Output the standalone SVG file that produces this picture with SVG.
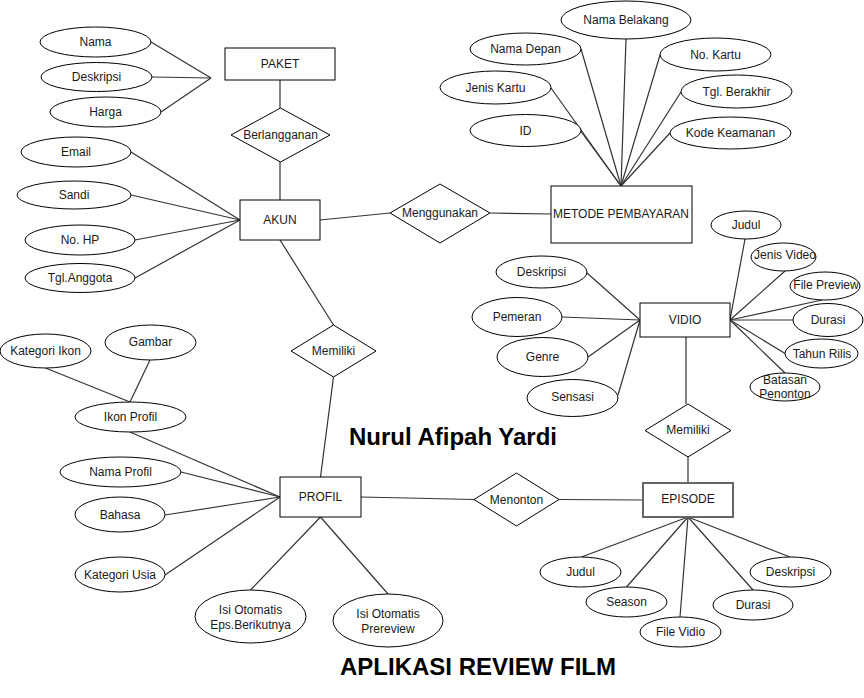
<svg xmlns="http://www.w3.org/2000/svg" width="864" height="698" viewBox="0 0 864 698">
<style>
.e{fill:#fff;stroke:#000;stroke-width:1}
.r{fill:#fff;stroke:#000;stroke-width:1}
.d{fill:#fff;stroke:#000;stroke-width:1}
.t{font-family:"Liberation Sans",Arial,sans-serif;font-size:12px;fill:#1a1a1a;text-anchor:middle}
.b{font-family:"Liberation Sans",Arial,sans-serif;font-weight:bold;fill:#000;text-anchor:middle}
#connectors line{stroke:#333;stroke-width:1.2;fill:none}
</style>
<rect x="0" y="0" width="864" height="698" fill="#fff"/>
<g id="connectors">
<line x1="151" y1="42" x2="211" y2="78"/>
<line x1="152" y1="77" x2="211" y2="78"/>
<line x1="161" y1="112" x2="211" y2="78"/>
<line x1="280" y1="80" x2="280" y2="108"/>
<line x1="280" y1="162" x2="280" y2="200"/>
<line x1="131" y1="152" x2="240" y2="220"/>
<line x1="131" y1="195" x2="240" y2="220"/>
<line x1="135" y1="240" x2="240" y2="220"/>
<line x1="135" y1="278" x2="240" y2="220"/>
<line x1="320" y1="220" x2="390" y2="213"/>
<line x1="490" y1="213" x2="551" y2="214"/>
<line x1="581" y1="49" x2="621" y2="186"/>
<line x1="626" y1="39" x2="621" y2="186"/>
<line x1="551" y1="88" x2="621" y2="186"/>
<line x1="580" y1="130" x2="621" y2="186"/>
<line x1="660" y1="55" x2="621" y2="186"/>
<line x1="681" y1="92" x2="621" y2="186"/>
<line x1="670" y1="133" x2="621" y2="186"/>
<line x1="280" y1="240" x2="333.5" y2="325"/>
<line x1="333.5" y1="377" x2="320.5" y2="477"/>
<line x1="45.5" y1="368" x2="130" y2="402"/>
<line x1="150" y1="360" x2="130" y2="402"/>
<line x1="130" y1="432" x2="280" y2="497"/>
<line x1="181" y1="472" x2="280" y2="497"/>
<line x1="165" y1="515" x2="280" y2="497"/>
<line x1="165" y1="575" x2="280" y2="497"/>
<line x1="250.5" y1="590" x2="320.5" y2="517"/>
<line x1="388" y1="594" x2="320.5" y2="517"/>
<line x1="361" y1="497" x2="474" y2="499.5"/>
<line x1="559" y1="499.5" x2="643" y2="500"/>
<line x1="587" y1="273" x2="640" y2="320"/>
<line x1="562" y1="317" x2="640" y2="320"/>
<line x1="588" y1="357" x2="640" y2="320"/>
<line x1="618" y1="395" x2="640" y2="320"/>
<line x1="730" y1="320" x2="745" y2="239"/>
<line x1="730" y1="320" x2="785" y2="271"/>
<line x1="730" y1="320" x2="822" y2="300"/>
<line x1="730" y1="320" x2="793" y2="320"/>
<line x1="730" y1="320" x2="786" y2="354"/>
<line x1="730" y1="320" x2="785" y2="373"/>
<line x1="686" y1="337" x2="686" y2="404"/>
<line x1="688" y1="457" x2="688" y2="483"/>
<line x1="688" y1="517" x2="581.5" y2="557"/>
<line x1="688" y1="517" x2="626.5" y2="587"/>
<line x1="688" y1="517" x2="680" y2="617"/>
<line x1="688" y1="517" x2="753" y2="590"/>
<line x1="688" y1="517" x2="790" y2="557"/>
</g>
<g id="paket"><rect class="r" x="225" y="48" width="110" height="32"/><text class="t" x="280" y="68">PAKET</text></g>
<g id="paket-nama"><ellipse class="e" cx="95.5" cy="42" rx="55.5" ry="15"/><text class="t" x="95.5" y="46">Nama</text></g>
<g id="paket-deskripsi"><ellipse class="e" cx="96.5" cy="77" rx="55.5" ry="14.5"/><text class="t" x="96.5" y="81">Deskripsi</text></g>
<g id="paket-harga"><ellipse class="e" cx="105.5" cy="112" rx="55.5" ry="15"/><text class="t" x="105.5" y="116">Harga</text></g>
<g id="berlangganan"><polygon class="d" points="231,135 280.5,108 330,135 280.5,162"/><text class="t" x="280.5" y="139">Berlangganan</text></g>
<g id="akun"><rect class="r" x="240" y="200" width="80" height="40"/><text class="t" x="280" y="224">AKUN</text></g>
<g id="akun-email"><ellipse class="e" cx="76" cy="152" rx="55" ry="15"/><text class="t" x="76" y="156">Email</text></g>
<g id="akun-sandi"><ellipse class="e" cx="74" cy="195" rx="57" ry="14"/><text class="t" x="74" y="199">Sandi</text></g>
<g id="akun-nohp"><ellipse class="e" cx="80" cy="240" rx="55" ry="15"/><text class="t" x="80" y="244">No. HP</text></g>
<g id="akun-tgl"><ellipse class="e" cx="80" cy="278" rx="55" ry="14.5"/><text class="t" x="80" y="282">Tgl.Anggota</text></g>
<g id="menggunakan"><polygon class="d" points="390,213 440,184 490,213 440,243"/><text class="t" x="440" y="217">Menggunakan</text></g>
<g id="metode"><rect class="r" x="551" y="186" width="141" height="57"/><text class="t" x="621" y="218">METODE PEMBAYARAN</text></g>
<g id="mp-namabelakang"><ellipse class="e" cx="626" cy="20" rx="65" ry="19"/><text class="t" x="626" y="24">Nama Belakang</text></g>
<g id="mp-namadepan"><ellipse class="e" cx="525.5" cy="49" rx="55.5" ry="16"/><text class="t" x="525.5" y="53">Nama Depan</text></g>
<g id="mp-jeniskartu"><ellipse class="e" cx="495.5" cy="87.5" rx="55.5" ry="16.5"/><text class="t" x="495.5" y="92">Jenis Kartu</text></g>
<g id="mp-id"><ellipse class="e" cx="525.5" cy="130.5" rx="55.5" ry="16"/><text class="t" x="525.5" y="135">ID</text></g>
<g id="mp-nokartu"><ellipse class="e" cx="715.5" cy="54.5" rx="55.5" ry="16.5"/><text class="t" x="715.5" y="59">No. Kartu</text></g>
<g id="mp-tgl"><ellipse class="e" cx="736.5" cy="91.5" rx="55.5" ry="16.5"/><text class="t" x="736.5" y="96">Tgl. Berakhir</text></g>
<g id="mp-kode"><ellipse class="e" cx="730.5" cy="133" rx="60.5" ry="16"/><text class="t" x="730.5" y="137">Kode Keamanan</text></g>
<g id="memiliki-1"><polygon class="d" points="291,351 333.5,325 376,351 333.5,377"/><text class="t" x="333.5" y="355">Memiliki</text></g>
<g id="profil"><rect class="r" x="280" y="477" width="81" height="40"/><text class="t" x="320.5" y="501">PROFIL</text></g>
<g id="pr-kategoriikon"><ellipse class="e" cx="45.5" cy="351" rx="45.5" ry="17"/><text class="t" x="45.5" y="355">Kategori Ikon</text></g>
<g id="pr-gambar"><ellipse class="e" cx="150.5" cy="342.5" rx="45.5" ry="17.5"/><text class="t" x="150.5" y="346">Gambar</text></g>
<g id="pr-ikon"><ellipse class="e" cx="130.5" cy="417" rx="55.5" ry="15"/><text class="t" x="130.5" y="421">Ikon Profil</text></g>
<g id="pr-nama"><ellipse class="e" cx="120.5" cy="472" rx="60.5" ry="15"/><text class="t" x="120.5" y="476">Nama Profil</text></g>
<g id="pr-bahasa"><ellipse class="e" cx="120" cy="514.5" rx="45" ry="17.5"/><text class="t" x="120" y="519">Bahasa</text></g>
<g id="pr-usia"><ellipse class="e" cx="120" cy="574.5" rx="45" ry="17.5"/><text class="t" x="120" y="579">Kategori Usia</text></g>
<g id="pr-eps"><ellipse class="e" cx="250.5" cy="616.5" rx="55.5" ry="26.5"/><text class="t" x="250.5" y="614">Isi Otomatis</text><text class="t" x="250.5" y="629">Eps.Berikutnya</text></g>
<g id="pr-prereview"><ellipse class="e" cx="388" cy="620.5" rx="55" ry="26.5"/><text class="t" x="388" y="618">Isi Otomatis</text><text class="t" x="388" y="633">Prereview</text></g>
<g id="menonton"><polygon class="d" points="474,499.5 516.5,473 559,499.5 516.5,526"/><text class="t" x="516.5" y="503.5">Menonton</text></g>
<g id="vidio"><rect class="r" x="640" y="303" width="90" height="34"/><text class="t" x="685" y="324">VIDIO</text></g>
<g id="v-deskripsi"><ellipse class="e" cx="541.5" cy="272" rx="45.5" ry="16"/><text class="t" x="541.5" y="276">Deskripsi</text></g>
<g id="v-pemeran"><ellipse class="e" cx="517" cy="317" rx="45" ry="19.5"/><text class="t" x="517" y="321">Pemeran</text></g>
<g id="v-genre"><ellipse class="e" cx="542.5" cy="357" rx="45.5" ry="19.5"/><text class="t" x="542.5" y="361">Genre</text></g>
<g id="v-sensasi"><ellipse class="e" cx="572.5" cy="398" rx="45.5" ry="18.5"/><text class="t" x="572.5" y="401">Sensasi</text></g>
<g id="v-judul"><ellipse class="e" cx="746" cy="225" rx="35" ry="14"/><text class="t" x="746" y="229">Judul</text></g>
<g id="v-jenis"><ellipse class="e" cx="783.5" cy="257" rx="32.5" ry="14"/><text class="t" x="785" y="259">Jenis Video</text></g>
<g id="v-file"><ellipse class="e" cx="825" cy="286" rx="35" ry="14"/><text class="t" x="826" y="289">File Preview</text></g>
<g id="v-durasi"><ellipse class="e" cx="828" cy="320" rx="35" ry="16.5"/><text class="t" x="828" y="324">Durasi</text></g>
<g id="v-tahun"><ellipse class="e" cx="821.5" cy="353.5" rx="36.5" ry="14.5"/><text class="t" x="822" y="358">Tahun Rilis</text></g>
<g id="v-batasan"><ellipse class="e" cx="785" cy="387" rx="35" ry="14"/><text class="t" x="785" y="384">Batasan</text><text class="t" x="785" y="398">Penonton</text></g>
<g id="memiliki-2"><polygon class="d" points="645,430.5 688,404 731,430.5 688,457"/><text class="t" x="688" y="434">Memiliki</text></g>
<g id="episode"><rect x="643" y="483" width="90" height="34" fill="#fff" stroke="#666" stroke-width="2"/><text class="t" x="688" y="503">EPISODE</text></g>
<g id="ep-judul"><ellipse class="e" cx="580.5" cy="572" rx="40.5" ry="15"/><text class="t" x="580.5" y="576">Judul</text></g>
<g id="ep-season"><ellipse class="e" cx="626.5" cy="602" rx="40.5" ry="15"/><text class="t" x="626.5" y="606">Season</text></g>
<g id="ep-file"><ellipse class="e" cx="680.5" cy="632" rx="40.5" ry="15"/><text class="t" x="680.5" y="636">File Vidio</text></g>
<g id="ep-durasi"><ellipse class="e" cx="753" cy="605" rx="40" ry="15"/><text class="t" x="753" y="609">Durasi</text></g>
<g id="ep-deskripsi"><ellipse class="e" cx="790.5" cy="572" rx="40.5" ry="15"/><text class="t" x="790.5" y="576">Deskripsi</text></g>
<text class="b" x="453" y="445" font-size="24">Nurul Afipah Yardi</text>
<text class="b" x="478" y="675" font-size="24">APLIKASI REVIEW FILM</text>
</svg>
